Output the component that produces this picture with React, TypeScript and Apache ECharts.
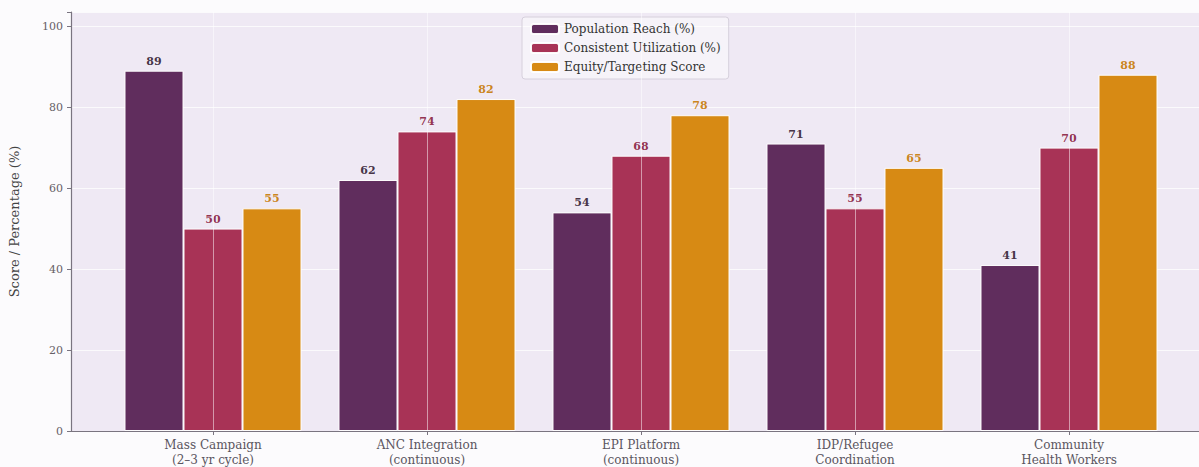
import React, { useEffect, useRef } from "react";
import * as echarts from "echarts";

// Delivery channels on the x axis (two-line labels)
const categories = [
  "Mass Campaign\n(2–3 yr cycle)",
  "ANC Integration\n(continuous)",
  "EPI Platform\n(continuous)",
  "IDP/Refugee\nCoordination",
  "Community\nHealth Workers",
];

const populationReach = [89, 62, 54, 71, 41];
const consistentUtilization = [50, 74, 68, 55, 70];
const equityScore = [55, 82, 78, 65, 88];

const seriesNames = [
  "Population Reach (%)",
  "Consistent Utilization (%)",
  "Equity/Targeting Score",
];

const yTicks = [0, 20, 40, 60, 80, 100];

const COLORS = ["#5a2456", "#a42b4f", "#d5850a"];
const LABEL_COLORS = ["#3d2a3d", "#8e2a48", "#c97f10"];
const FONT = "'DejaVu Serif', 'Liberation Serif', serif";
const Y_MAX = 103.5;

export default function App() {
  const ref = useRef<HTMLDivElement>(null);

  useEffect(() => {
    if (!ref.current) return;
    const chart = echarts.init(ref.current, null, { renderer: "svg" });

    const values = [populationReach, consistentUtilization, equityScore];

    const bars = values.map((data, i) => ({
      name: seriesNames[i],
      type: "bar" as const,
      xAxisIndex: 1,
      yAxisIndex: 1,
      data,
      barWidth: 59,
      barGap: "0%",
      z: 3,
      itemStyle: {
        color: COLORS[i],
        opacity: 0.96,
        borderColor: "#ffffff",
        borderWidth: 1,
      },
      label: {
        show: true,
        position: "top" as const,
        distance: 4,
        fontFamily: FONT,
        fontWeight: "bold" as const,
        fontSize: 11,
        color: LABEL_COLORS[i],
      },
    }));

    // Faint vertical grid lines at each category centre, under the bars
    const vGrid = {
      name: "vgrid",
      type: "line" as const,
      xAxisIndex: 1,
      yAxisIndex: 1,
      data: [],
      z: 1,
      silent: true,
      markLine: {
        silent: true,
        symbol: "none",
        label: { show: false },
        lineStyle: { color: "#ffffff", width: 1, type: "solid" as const, opacity: 0.5 },
        data: categories.map((c) => ({ xAxis: c })),
      },
    };

    chart.setOption({
      animation: false,
      backgroundColor: "#fcfbfd",
      textStyle: { fontFamily: FONT },
      legend: {
        data: seriesNames,
        orient: "vertical",
        left: 522,
        top: 17,
        padding: [6, 8, 6, 8],
        itemWidth: 28,
        itemHeight: 10,
        itemGap: 7,
        backgroundColor: "rgba(255,255,255,0.45)",
        borderColor: "#d6d0dc",
        borderWidth: 1,
        borderRadius: 3,
        textStyle: { fontFamily: FONT, fontSize: 12, color: "#333333" },
      },
      grid: [
        {
          left: 71,
          top: 12,
          width: 1140,
          height: 419,
          show: true,
          backgroundColor: "#efe9f4",
          borderWidth: 0,
        },
        { left: 106, top: 12, width: 1070, height: 419 },
      ],
      xAxis: [
        {
          gridIndex: 0,
          type: "value",
          min: 0,
          max: 1,
          axisLine: { show: true, onZero: false, lineStyle: { color: "#7a7480", width: 1.2 } },
          axisTick: { show: false },
          axisLabel: { show: false },
          splitLine: { show: false },
        },
        {
          gridIndex: 1,
          type: "category",
          data: categories,
          axisLine: { show: false },
          axisTick: { show: true, alignWithLabel: true, length: 4, lineStyle: { color: "#7a7480" } },
          axisLabel: {
            fontFamily: FONT,
            fontSize: 12,
            color: "#5a5560",
            lineHeight: 15,
            margin: 6,
          },
          splitLine: { show: false },
        },
      ],
      yAxis: [
        {
          gridIndex: 0,
          type: "value",
          min: 0,
          max: Y_MAX,
          interval: 20,
          name: "Score / Percentage (%)",
          nameLocation: "middle",
          nameGap: 50,
          nameTextStyle: { fontFamily: FONT, fontSize: 13, color: "#444444" },
          axisLine: { show: true, lineStyle: { color: "#7a7480", width: 1.2 } },
          axisTick: { show: true, length: 4, lineStyle: { color: "#7a7480" } },
          axisLabel: {
            fontFamily: FONT,
            fontSize: 11,
            color: "#666066",
            margin: 8,
            formatter: (v: number) => (yTicks.includes(v) ? String(v) : ""),
          },
          splitLine: { show: true, lineStyle: { color: "#ffffff", width: 1, opacity: 0.75 } },
        },
        {
          gridIndex: 1,
          type: "value",
          min: 0,
          max: Y_MAX,
          interval: 20,
          show: false,
          splitLine: { show: false },
        },
      ],
      series: [vGrid, ...bars],
    });

    return () => chart.dispose();
  }, []);

  return (
    <div
      ref={ref}
      style={{ position: "fixed", left: 0, top: 0, width: 1199, height: 467 }}
    />
  );
}
